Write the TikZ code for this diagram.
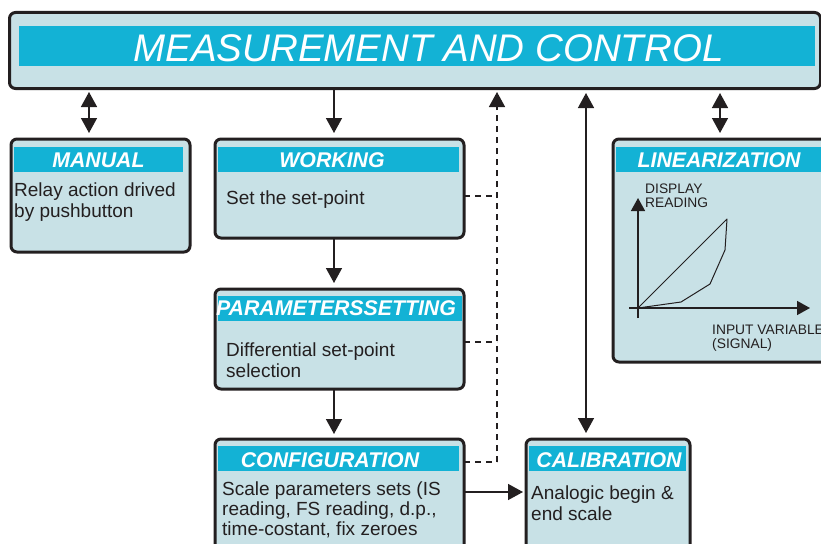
\documentclass[tikz,border=0pt]{standalone}
\usepackage{fontspec}
\setmainfont{Liberation Sans}
\usetikzlibrary{arrows.meta}
\definecolor{lb}{HTML}{C8E1E6}
\definecolor{cy}{HTML}{13B2D5}
\definecolor{ink}{HTML}{231F20}
\tikzset{
 box/.style={draw=ink, fill=lb, line width=3pt, rounded corners=6pt, inner sep=0pt, outer sep=0pt},
 band/.style={fill=cy, inner sep=0pt, outer sep=0pt},
 head/.style={text=white, font=\fontsize{21.3}{24}\selectfont\bfseries\itshape, anchor=base, inner sep=0pt},
 body/.style={text=ink, font=\fontsize{19}{21}\selectfont, anchor=base west, align=left, inner sep=0pt},
 small/.style={text=ink, font=\fontsize{13.8}{14}\selectfont, anchor=base west, align=left, inner sep=0pt},
 conn/.style={draw=ink, line width=1.5pt, -{Triangle[length=15pt,width=16pt]}},
 dbl/.style={draw=ink, line width=1.5pt, {Triangle[length=15pt,width=16pt]}-{Triangle[length=15pt,width=16pt]}},
 dsh/.style={draw=ink, line width=1.5pt, dash pattern=on 6pt off 5pt},
}
\begin{document}
\begin{tikzpicture}[x=1pt,y=-1pt]
\useasboundingbox (0,0) rectangle (821,543);
% boxes
\node[box, minimum width=811pt, minimum height=76pt] (top) at (415,50.5) {};
\node[box, minimum width=179pt, minimum height=113pt] (manual) at (100.5,195.5) {};
\node[box, minimum width=249pt, minimum height=99pt] (working) at (339.5,188.5) {};
\node[box, minimum width=249pt, minimum height=100pt] (params) at (339.5,339) {};
\node[box, minimum width=249pt, minimum height=141pt] (config) at (339.5,509.5) {};
\node[box, minimum width=164pt, minimum height=141pt] (calib) at (608,509.5) {};
\node[box, minimum width=237pt, minimum height=223pt] (linear) at (731.5,250.5) {};
% bands
\node[band, minimum width=796pt, minimum height=40pt] (topband) at (417,46) {};
\node[band, minimum width=169pt, minimum height=25pt] (manualband) at (98.5,159.5) {};
\node[band, minimum width=241pt, minimum height=25pt] (workingband) at (338.5,159.5) {};
\node[band, minimum width=244pt, minimum height=25pt] (paramsband) at (340,308.5) {};
\node[band, minimum width=241pt, minimum height=25pt] (configband) at (338.5,458.5) {};
\node[band, minimum width=157pt, minimum height=25pt] (calibband) at (607.5,458.5) {};
\node[band, minimum width=214pt, minimum height=25pt] (linearband) at (723,159.5) {};
% titles
\node[text=white, font=\fontsize{38.5}{40}\selectfont\itshape, anchor=base, inner sep=0pt] (title) at (428.5,61) {MEASUREMENT AND CONTROL};
\node[head] (manualt) at (98.5,167) {MANUAL};
\node[head] (workingt) at (332,167) {WORKING};
\node[head] (paramst) at (336,315) {PARAMETERSSETTING};
\node[head] (configt) at (330,467) {CONFIGURATION};
\node[head] (calibt) at (609,467) {CALIBRATION};
\node[head] (lineart) at (719,167) {LINEARIZATION};
% body texts (base anchor = last line)
\node[body] (manualb) at (14,217) {Relay action drived\\by pushbutton};
\node[body] (workingb) at (226,204) {Set the set-point};
\node[body] (paramsb) at (226,377) {Differential set-point\\selection};
\node[body, font=\fontsize{19}{20}\selectfont] (configb) at (222,535) {Scale parameters sets (IS\\reading, FS reading, d.p.,\\time-costant, fix zeroes};
\node[body] (calibb) at (531,520) {Analogic begin \&\\end scale};
% graph
\node[small] (ylab) at (645,207) {DISPLAY\\READING};
\node[small] (xlab) at (712,348) {INPUT VARIABLE\\(SIGNAL)};
\draw[ink, line width=1.5pt, -{Triangle[length=13pt,width=14pt]}] (638,318) -- (638,198);
\draw[ink, line width=1.5pt, -{Triangle[length=13pt,width=14pt]}] (629,308) -- (810,308);
\draw[ink, line width=1pt, line join=round] (638,308) -- (727,219) -- (725,250) -- (710,284) -- (681,302) -- cycle;
% connectors
\coordinate (am) at ([xshift=78]manual.north west);
\draw[dbl, shorten <=3.5pt, shorten >=6pt] (am |- top.south) -- (am);
\coordinate (aw) at ([xshift=119]working.north west);
\draw[conn, shorten >=6pt] (aw |- top.south) -- (aw);
\draw[conn, shorten <=1pt, shorten >=6pt] (aw |- working.south) -- (aw |- params.north);
\draw[conn, shorten <=1pt, shorten >=5pt] (aw |- params.south) -- (aw |- config.north);
\coordinate (ac) at ([yshift=-53]config.north east);
\draw[conn, shorten <=1pt, shorten >=3pt] (ac) -- (ac -| calib.west);
\coordinate (aca) at ([xshift=60]calib.north west);
\draw[dbl, shorten <=4.5pt, shorten >=6pt] (aca |- top.south) -- (aca);
\coordinate (al) at ([xshift=107]linear.north west);
\draw[dbl, shorten <=4.5pt, shorten >=6pt] (al |- top.south) -- (al);
% dashed feedback
\coordinate (dv) at ([xshift=33]config.north east);
\coordinate (dw) at ([yshift=-57]working.north east);
\coordinate (dp) at ([yshift=-53]params.north east);
\coordinate (dc) at ([yshift=-23]config.north east);
\draw[dsh] (dw) -- (dw -| dv);
\draw[dsh] (dp) -- (dp -| dv);
\draw[dsh] (dc) -- (dc -| dv);
\draw[dsh, -{Triangle[length=15pt,width=16pt]}, shorten >=3.5pt] (dc -| dv) -- (dv |- top.south);
\end{tikzpicture}
\end{document}
